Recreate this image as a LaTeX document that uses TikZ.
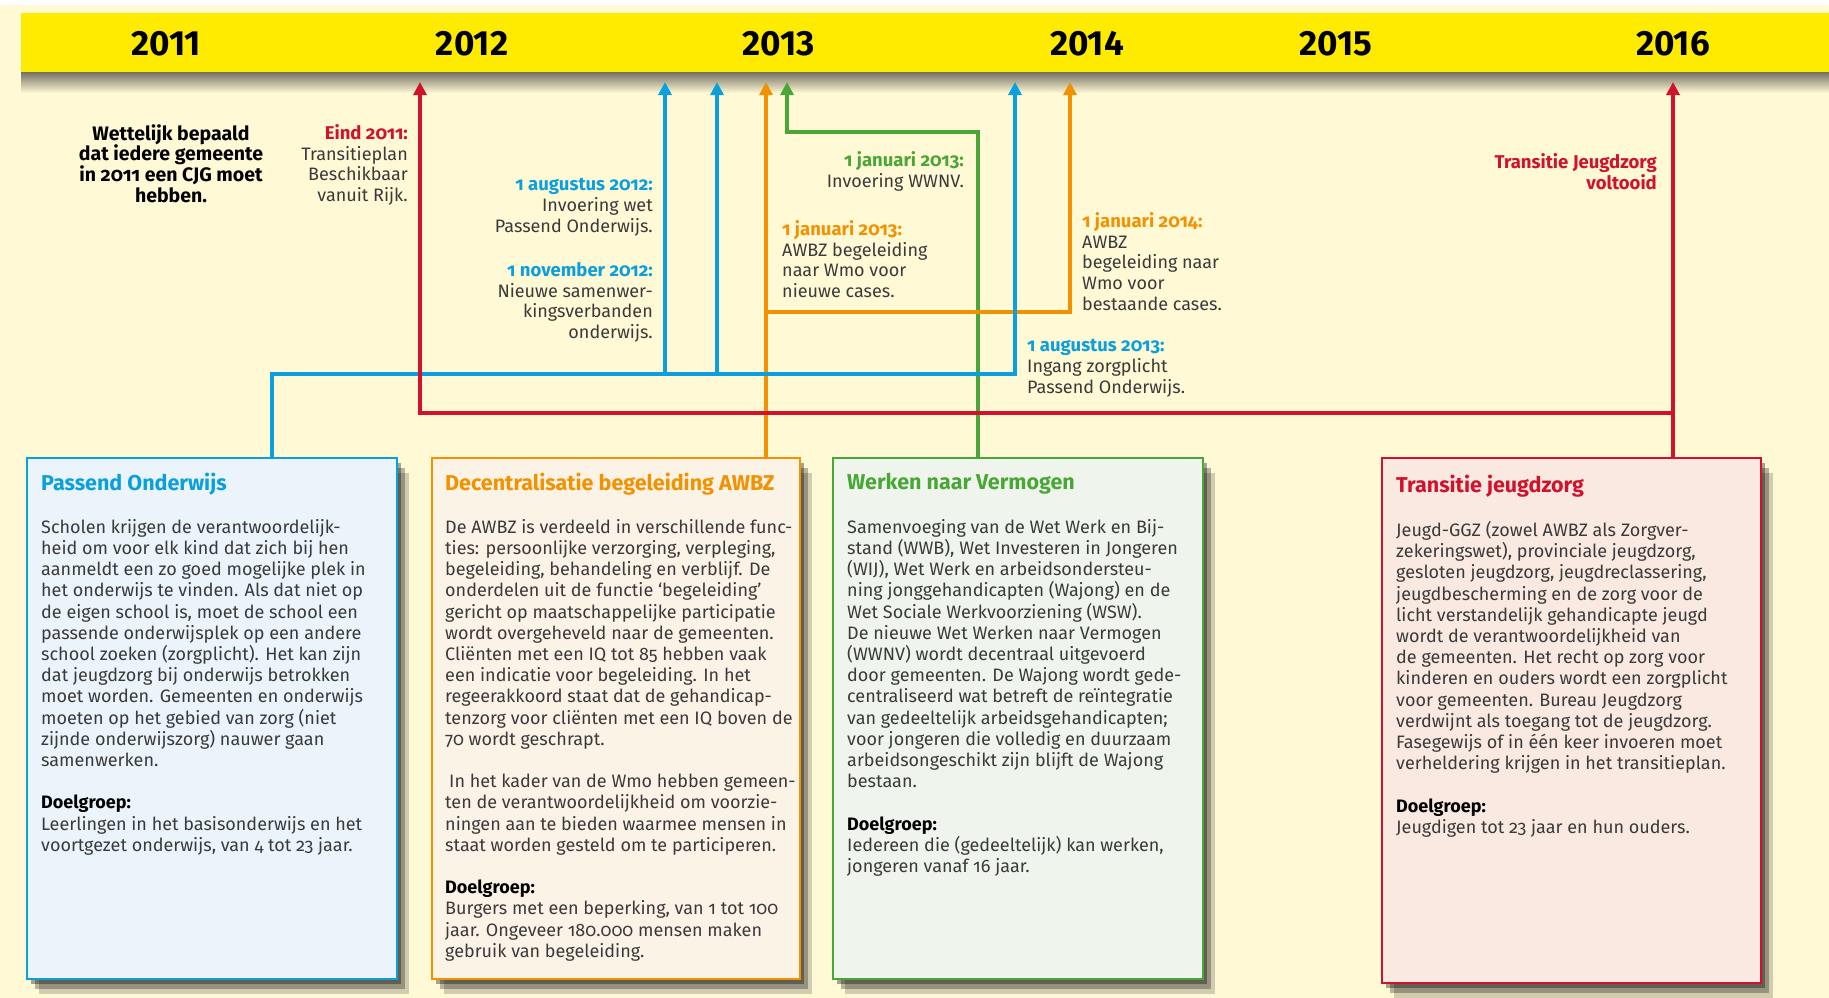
\documentclass[tikz,border=0pt]{standalone}
\usepackage{fontspec}
\setmainfont{Fira Sans}[Numbers=OldStyle]
\usetikzlibrary{positioning, calc, arrows.meta, shadows}

\definecolor{creme}{HTML}{FFF9D6}
\definecolor{geel}{HTML}{FFEB00}
\definecolor{rood}{HTML}{D0122C}
\definecolor{blauw}{HTML}{0BA0DD}
\definecolor{oranje}{HTML}{F39200}
\definecolor{groen}{HTML}{4AA636}
\definecolor{tekst}{HTML}{3A3A3A}
\definecolor{blauwvlak}{HTML}{EAF4FA}
\definecolor{oranjevlak}{HTML}{FCF3E7}
\definecolor{groenvlak}{HTML}{EFF5EC}
\definecolor{roodvlak}{HTML}{F9E9E1}

\newcommand{\wanneer}[2]{\textcolor{#1}{\fontsize{18.5}{20.8}\selectfont\bfseries #2}}

\begin{document}
\begin{tikzpicture}[x=1pt, y=-1pt,
    lijn/.style={line width=4pt, -{Triangle[width=13pt,length=13pt]}},
    kaart/.style={draw=#1, fill=#1vlak, line width=1.6pt, anchor=north west, inner sep=0pt,
        drop shadow={shadow xshift=4pt, shadow yshift=-5pt, fill=black, opacity=.35},
        drop shadow={shadow xshift=8pt, shadow yshift=-10pt, fill=black, opacity=.28},
        drop shadow={shadow xshift=12pt, shadow yshift=-15pt, fill=black, opacity=.18}},
    jaar/.style={inner sep=0pt, font=\fontsize{35}{35}\selectfont\bfseries\addfontfeatures{Numbers=Lining}},
    notitie/.style={inner sep=0pt, text=tekst, font=\fontsize{18}{20.8}\selectfont},
    kop/.style={inner sep=0pt, anchor=west, text=#1, font=\fontsize{21.5}{22}\selectfont\bfseries},
    tekstvak/.style={inner sep=0pt, anchor=north west, align=left, text=tekst, font=\fontsize{18}{21.2}\selectfont}]

\useasboundingbox (0,0) rectangle (1829,998);
\fill[white] (0,0) rectangle (1829,998);
\fill[creme] (0,5) rectangle (1829,998);
\shade[top color=creme!45!black, bottom color=creme] (21,72) rectangle (1829,93);
\fill[geel] (21,13) rectangle (1829,72);

\node[jaar] (j2011) at (166,44) {2011};
\node[jaar] (j2012) at (472,44) {2012};
\node[jaar] (j2013) at (779,44) {2013};
\node[jaar] (j2014) at (1087,44) {2014};
\node[jaar] (j2015) at (1336,44) {2015};
\node[jaar] (j2016) at (1673,44) {2016};

\node[kaart=blauw, minimum width=370pt, minimum height=521pt] (po) at (26,457) {};
\node[kaart=oranje, minimum width=368pt, minimum height=521pt] (awbz) at (431,457) {};
\node[kaart=groen, minimum width=370pt, minimum height=521pt] (wnv) at (832,457) {};
\node[kaart=rood, minimum width=379pt, minimum height=525pt] (jz) at (1381,457) {};

\coordinate (r1) at (420,82);
\coordinate (r2) at (1673,82);
\coordinate (rknik) at (1673,413);
\coordinate (b1) at (665,82);
\coordinate (b2) at (717,82);
\coordinate (b3) at (1015,82);
\coordinate (bknik) at (272,374);
\coordinate (o1) at (766,82);
\coordinate (o2) at (1070,82);
\coordinate (oknik) at (766,312);
\coordinate (g1) at (787,82);
\coordinate (gknik) at (978,132);

\draw[lijn, groen] (wnv.north -| gknik) -- (gknik) -| (g1);
\draw[lijn, oranje] (awbz.north -| o1) -- (o1);
\draw[lijn, oranje] (oknik) -| (o2);
\draw[lijn, blauw] (po.north -| bknik) -- (bknik) -| (b3);
\draw[lijn, blauw] (bknik -| b1) -- (b1);
\draw[lijn, blauw] (bknik -| b2) -- (b2);
\draw[lijn, rood] (jz.north -| r2) -- (r2);
\draw[lijn, rood] (rknik) -| (r1);

\node[notitie, anchor=north, align=center, text=black, font=\fontsize{19.5}{20.8}\selectfont\bfseries] (cjg) at (171,124) {Wettelijk bepaald\\dat iedere gemeente\\in 2011 een CJG moet\\hebben.};
\node[notitie, anchor=north east, align=right] (eind) at (408,124) {\wanneer{rood}{Eind 2011:}\\Transitieplan\\Beschikbaar\\vanuit Rijk.};
\node[notitie, anchor=north east, align=right] (aug12) at (653,178) {\wanneer{blauw}{1 augustus 2012:}\\Invoering wet\\Passend Onderwijs.};
\node[notitie, anchor=north east, align=right] (nov12) at (653,262) {\wanneer{blauw}{1 november 2012:}\\Nieuwe samenwer-\\kingsverbanden\\onderwijs.};
\node[notitie, anchor=north east, align=right] (jan13g) at (964,151) {\wanneer{groen}{1 januari 2013:}\\Invoering WWNV.};
\node[notitie, anchor=north west, align=left] (jan13o) at (782,220) {\wanneer{oranje}{1 januari 2013:}\\AWBZ begeleiding\\naar Wmo voor\\nieuwe cases.};
\node[notitie, anchor=north west, align=left] (jan14) at (1082,212) {\wanneer{oranje}{1 januari 2014:}\\AWBZ\\begeleiding naar\\Wmo voor\\bestaande cases.};
\node[notitie, anchor=north west, align=left] (aug13) at (1027,339) {\wanneer{blauw}{1 augustus 2013:}\\Ingang zorgplicht\\Passend Onderwijs.};
\node[notitie, anchor=north east, align=right, text=rood, font=\fontsize{18.5}{20.8}\selectfont\bfseries] (klaar) at (1657,153) {Transitie Jeugdzorg\\voltooid};

\node[kop=blauw] (po kop) at (41,484) {Passend Onderwijs};
\node[tekstvak] (po tekst) at (41,519) {Scholen krijgen de verantwoordelijk-\\heid om voor elk kind dat zich bij hen\\aanmeldt een zo goed mogelijke plek in\\het onderwijs te vinden. Als dat niet op\\de eigen school is, moet de school een\\passende onderwijsplek op een andere\\school zoeken (zorgplicht). Het kan zijn\\dat jeugdzorg bij onderwijs betrokken\\moet worden. Gemeenten en onderwijs\\moeten op het gebied van zorg (niet\\zijnde onderwijszorg) nauwer gaan\\samenwerken.\\[21.2pt]\textcolor{black}{\bfseries Doelgroep:}\\Leerlingen in het basisonderwijs en het\\voortgezet onderwijs, van 4 tot 23 jaar.};

\node[kop=oranje] (awbz kop) at (445,484) {Decentralisatie begeleiding AWBZ};
\node[tekstvak] (awbz tekst) at (445,519) {De AWBZ is verdeeld in verschillende func-\\ties: persoonlijke verzorging, verpleging,\\begeleiding, behandeling en verblijf. De\\onderdelen uit de functie ‘begeleiding’\\gericht op maatschappelijke participatie\\wordt overgeheveld naar de gemeenten.\\Cliënten met een IQ tot 85 hebben vaak\\een indicatie voor begeleiding. In het\\regeerakkoord staat dat de gehandicap-\\tenzorg voor cliënten met een IQ boven de\\70 wordt geschrapt.\\[21.2pt]\hspace{4pt}In het kader van de Wmo hebben gemeen-\\ten de verantwoordelijkheid om voorzie-\\ningen aan te bieden waarmee mensen in\\staat worden gesteld om te participeren.\\[21.2pt]\textcolor{black}{\bfseries Doelgroep:}\\Burgers met een beperking, van 1 tot 100\\jaar. Ongeveer 180.000 mensen maken\\gebruik van begeleiding.};

\node[kop=groen] (wnv kop) at (847,484) {Werken naar Vermogen};
\node[tekstvak] (wnv tekst) at (847,519) {Samenvoeging van de Wet Werk en Bij-\\stand (WWB), Wet Investeren in Jongeren\\(WIJ), Wet Werk en arbeidsondersteu-\\ning jonggehandicapten (Wajong) en de\\Wet Sociale Werkvoorziening (WSW).\\De nieuwe Wet Werken naar Vermogen\\(WWNV) wordt decentraal uitgevoerd\\door gemeenten. De Wajong wordt gede-\\centraliseerd wat betreft de reïntegratie\\van gedeeltelijk arbeidsgehandicapten;\\voor jongeren die volledig en duurzaam\\arbeidsongeschikt zijn blijft de Wajong\\bestaan.\\[21.2pt]\textcolor{black}{\bfseries Doelgroep:}\\Iedereen die (gedeeltelijk) kan werken,\\jongeren vanaf 16 jaar.};

\node[kop=rood] (jz kop) at (1396,486) {Transitie jeugdzorg};
\node[tekstvak] (jz tekst) at (1396,521) {Jeugd-GGZ (zowel AWBZ als Zorgver-\\zekeringswet), provinciale jeugdzorg,\\gesloten jeugdzorg, jeugdreclassering,\\jeugdbescherming en de zorg voor de\\licht verstandelijk gehandicapte jeugd\\wordt de verantwoordelijkheid van\\de gemeenten. Het recht op zorg voor\\kinderen en ouders wordt een zorgplicht\\voor gemeenten. Bureau Jeugdzorg\\verdwijnt als toegang tot de jeugdzorg.\\Fasegewijs of in één keer invoeren moet\\verheldering krijgen in het transitieplan.\\[21.2pt]\textcolor{black}{\bfseries Doelgroep:}\\Jeugdigen tot 23 jaar en hun ouders.};
\end{tikzpicture}
\end{document}
